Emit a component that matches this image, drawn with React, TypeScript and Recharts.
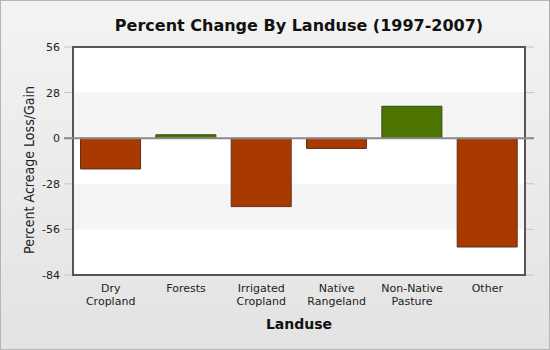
import { BarChart, Bar, XAxis, YAxis, CartesianGrid, ReferenceArea, ReferenceLine, Cell } from 'recharts';

const landuses = ['Dry Cropland', 'Forests', 'Irrigated Cropland', 'Native Rangeland', 'Non-Native Pasture', 'Other'];
const changes = [-18.9, 2.1, -42, -6.3, 19.6, -66.8];
const yTicks = [56, 28, 0, -28, -56, -84];

const data = landuses.map((name, i) => ({ name, change: changes[i] }));

const font = '"DejaVu Sans", Verdana, sans-serif';

function LanduseTick(props: any) {
    const { x, y, payload } = props;
    const words = String(payload.value).split(' ');
    return (
        <text x={x} y={y} textAnchor="middle" fontSize={11} fill="#222" fontFamily={font}>
            {words.map((w, i) => (
                <tspan key={i} x={x} dy={i === 0 ? 9 : 13}>{w}</tspan>
            ))}
        </text>
    );
}

function YTitle(props: any) {
    const { viewBox } = props;
    const cx = 28;
    const cy = viewBox.y + viewBox.height / 2 + 9;
    return (
        <text x={cx} y={cy} transform={`rotate(-90, ${cx}, ${cy})`} textAnchor="middle" dominantBaseline="central"
            fontSize={14} fill="#222" fontFamily={font} textLength={168} lengthAdjust="spacingAndGlyphs">
            Percent Acreage Loss/Gain
        </text>
    );
}

export default function App() {
    return (
        <div style={{
            position: 'absolute', top: 0, left: 0, width: 548, height: 348,
            border: '1px solid #b4b4b4',
            background: 'linear-gradient(#f3f3f3, #e3e3e3)',
            fontFamily: font,
        }}>
            <div style={{
                position: 'absolute', top: 15, left: 63, width: 470, textAlign: 'center',
                fontWeight: 'bold', fontSize: 16, color: '#111',
            }}>
                Percent Change By Landuse (1997-2007)
            </div>
            <BarChart width={548} height={348} data={data} barCategoryGap="10%"
                margin={{ top: 46, right: 15, bottom: 16, left: 0 }}>
                <ReferenceArea y1={56} y2={-84} fill="#ffffff" fillOpacity={1} stroke="none" />
                <ReferenceArea y1={0} y2={28} fill="#f5f5f5" fillOpacity={1} stroke="none" />
                <ReferenceArea y1={-56} y2={-28} fill="#f5f5f5" fillOpacity={1} stroke="none" />
                <CartesianGrid vertical={false} stroke="#c4c4c4" />
                <XAxis dataKey="name" tick={<LanduseTick />} interval={0} tickLine={false} axisLine={false}
                    height={58} padding={{ left: 9, right: 9 }}
                    label={{ value: 'Landuse', position: 'insideBottom', offset: 4, fontSize: 14, fontWeight: 'bold', fill: '#111', fontFamily: font }} />
                <YAxis domain={[-84, 56]} ticks={yTicks} interval={0} width={63} tickLine={false} axisLine={false}
                    tick={{ fontSize: 11, fill: '#222', fontFamily: font }} tickMargin={-2}
                    label={<YTitle />} />
                <Bar dataKey="change" isAnimationActive={false}>
                    {data.map((d, i) => (
                        <Cell key={i} fill={d.change >= 0 ? '#4e7400' : '#a83a00'} stroke={d.change >= 0 ? '#2f4a10' : '#5a3020'} strokeWidth={1} />
                    ))}
                </Bar>
                <ReferenceLine y={0} stroke="#8a8a8a" strokeWidth={2} />
                <ReferenceArea y1={56} y2={-84} fill="none" stroke="#555" strokeWidth={2} />
            </BarChart>
        </div>
    );
}
